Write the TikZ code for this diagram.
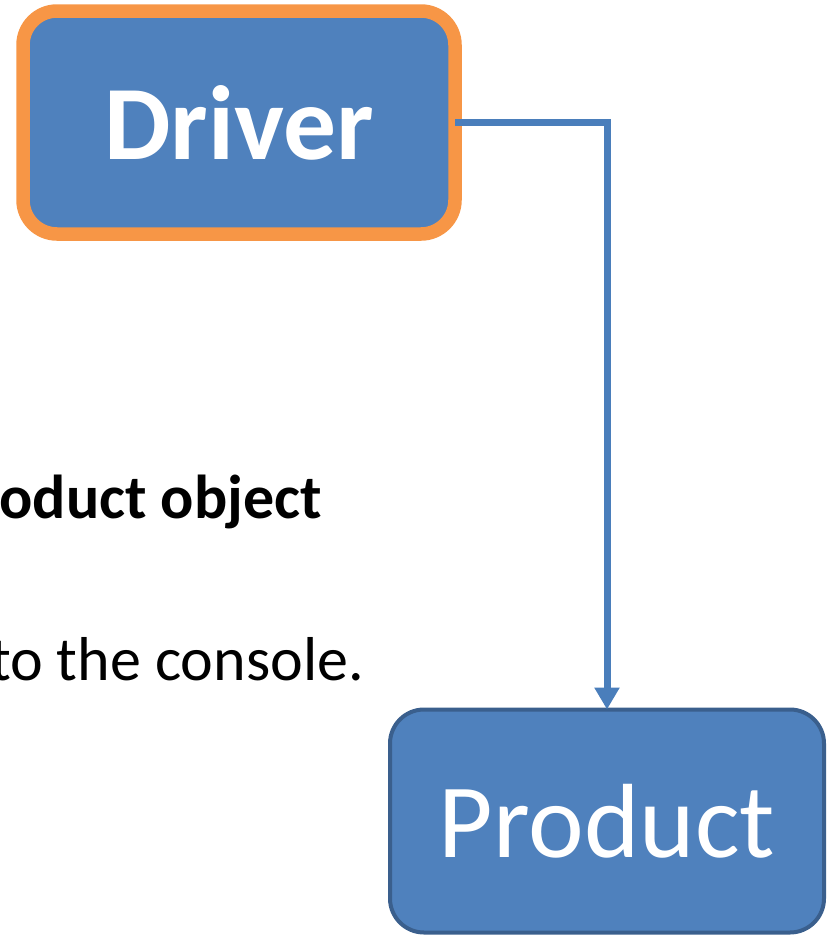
\documentclass[tikz,border=0pt]{standalone}
\usepackage{fontspec}
\setmainfont{Carlito}
\usetikzlibrary{arrows.meta}
\definecolor{boxblue}{HTML}{4F81BD}
\definecolor{boxedge}{HTML}{3A5F8D}
\definecolor{hilite}{HTML}{F79646}
\definecolor{linkblue}{HTML}{4A7EBB}
\tikzset{
  classbox/.style={draw=boxedge, fill=boxblue, line width=4pt, rounded corners=34pt,
    text=white, inner sep=0pt, outer sep=0pt, minimum width=434pt, minimum height=223pt,
    font=\fontsize{105.5}{120}\selectfont},
  activebox/.style={classbox, draw=hilite, line width=13.5pt, minimum width=432pt,
    font=\bfseries\fontsize{105.5}{120}\selectfont},
  link/.style={draw=linkblue, line width=7pt, -{Triangle[length=22pt,width=24pt]}},
  bodytext/.style={anchor=base east, inner sep=0pt, text=black, font=\fontsize{62}{74}\selectfont}
}
\begin{document}
\begin{tikzpicture}[x=1pt,y=-1pt]
  \useasboundingbox (0,0) rectangle (829,935);
  % the two class boxes
  \node[activebox] (driver) at (239,122.5) {Driver};
  \node[classbox] (product) at (607,821) {Product};
  % partially visible explanatory lines
  \node[bodytext, font=\bfseries\fontsize{62}{74}\selectfont] (objline) at (322,518) {oduct object};
  \node[bodytext] (consoleline) at (364,680) {to the console.};
  % call from Driver to Product
  \draw[link] (driver.east) -| (product.north);
\end{tikzpicture}
\end{document}
